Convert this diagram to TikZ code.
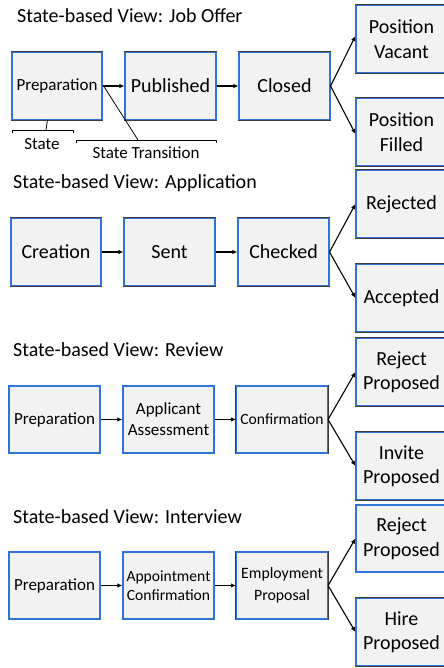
\documentclass[tikz,border=0pt]{standalone}
\usepackage{fontspec}
\setmainfont{Carlito}
\usetikzlibrary{arrows.meta}
\definecolor{boxfill}{HTML}{F2F2F2}
\definecolor{boxblue}{HTML}{2F74D8}
\definecolor{boxdark}{HTML}{3C3C3C}
\tikzset{
  sbox/.style={rectangle, fill=boxfill, draw=boxblue, line width=1.1bp,
    preaction={draw=boxdark, line width=2.6bp},
    minimum width=90bp, minimum height=67bp, inner sep=1bp, align=center, text=black},
  bigtxt/.style={font=\fontsize{20bp}{24.5bp}\selectfont},
  smalltxt/.style={font=\fontsize{17bp}{21bp}\selectfont},
  tinytxt/.style={font=\fontsize{15.6bp}{19bp}\selectfont},
  emptxt/.style={font=\fontsize{15.8bp}{22.5bp}\selectfont},
  rbox/.style={sbox, minimum width=91bp},
  title/.style={anchor=base west, inner sep=0pt, font=\fontsize{20bp}{24bp}\selectfont},
  flow/.style={line width=1.1bp, -{Latex[length=5bp,width=4.5bp]}},
  anno/.style={line width=0.8bp},
  annotxt/.style={inner sep=0pt, font=\fontsize{17bp}{20bp}\selectfont}
}
\begin{document}
\begin{tikzpicture}[x=1bp,y=-1bp]
\useasboundingbox (0,0) rectangle (444,668);
\clip (0,0) rectangle (444,668);
\fill[white] (0,0) rectangle (444,668);

% ---------- Section 1: Job Offer ----------
\node[title] (t1) at (17,23) {State-based View: Job Offer};
\node[sbox, smalltxt] (prep1) at (57,86) {Preparation};
\node[sbox, bigtxt, minimum width=91bp] (pub) at (170.5,86) {Published};
\node[sbox, bigtxt, minimum width=91bp] (closed) at (284.5,86) {Closed};
\node[rbox, bigtxt] (vac) at (401.5,39) {Position\\Vacant};
\node[rbox, bigtxt] (fill) at (401.5,132) {Position\\Filled};
\draw[flow] (prep1) -- (pub);
\draw[flow] (pub) -- (closed);
\draw[flow] (closed.east) -- ([yshift=3bp]vac.west);
\draw[flow] (closed.east) -- ([yshift=-2bp]fill.west);

% annotations
\coordinate (sA) at (12,133);
\coordinate (sB) at (12,130);
\coordinate (sC) at (73,130);
\coordinate (sD) at (73,133);
\coordinate (sM) at (46,130);
\coordinate (sT) at (47.5,120);
\draw[anno] (sA) -- (sB) -- (sC) -- (sD);
\draw[anno] (sM) -- (sT);
\node[annotxt] (stateLbl) at (42,144) {State};
\coordinate (tA) at (76,143);
\coordinate (tB) at (76,140);
\coordinate (tC) at (216,140);
\coordinate (tD) at (216,143);
\coordinate (tM) at (138,140);
\coordinate (tT) at (103,85);
\draw[anno] (tA) -- (tB) -- (tC) -- (tD);
\draw[anno] (tM) -- (tT);
\node[annotxt] (transLbl) at (146,153) {State Transition};

% ---------- Section 2: Application ----------
\node[title] (t2) at (13,188) {State-based View: Application};
\node[sbox, bigtxt] (crea) at (56,252) {Creation};
\node[sbox, bigtxt, minimum width=91bp] (sent) at (169.5,252) {Sent};
\node[sbox, bigtxt, minimum width=91bp] (chk) at (283.5,252) {Checked};
\node[rbox, bigtxt] (rej) at (401.5,204) {Rejected};
\node[rbox, bigtxt] (acc) at (401.5,298) {Accepted};
\draw[flow] (crea) -- (sent);
\draw[flow] (sent) -- (chk);
\draw[flow] (chk.east) -- (rej.west);
\draw[flow] (chk.east) -- (acc.west);

% ---------- Section 3: Review ----------
\node[title] (t3) at (13,356) {State-based View: Review};
\node[sbox, smalltxt, minimum width=91bp] (prep3) at (54.5,419.5) {Preparation};
\node[sbox, smalltxt, minimum width=91bp] (assess) at (168.5,419.5) {Applicant\\Assessment};
\node[sbox, tinytxt, minimum width=91bp] (conf) at (282,419.5) {Confirmation};
\node[rbox, bigtxt] (rp3) at (401.5,372) {Reject\\Proposed};
\node[rbox, bigtxt] (inv) at (401.5,466) {Invite\\Proposed};
\draw[flow] (prep3) -- (assess);
\draw[flow] (assess) -- (conf);
\draw[flow] (conf.east) -- (rp3.west);
\draw[flow] (conf.east) -- (inv.west);

% ---------- Section 4: Interview ----------
\node[title] (t4) at (13,523) {State-based View: Interview};
\node[sbox, smalltxt, minimum width=91bp] (prep4) at (54.5,585.5) {Preparation};
\node[sbox, tinytxt, minimum width=91bp] (appt) at (168.5,585.5) {Appointment\\Confirmation};
\node[sbox, emptxt, minimum width=91bp] (empl) at (282,585.5) {Employment\\Proposal};
\node[rbox, bigtxt] (rp4) at (401.5,538.5) {Reject\\Proposed};
\node[rbox, bigtxt] (hire) at (401.5,632) {Hire\\Proposed};
\draw[flow] (prep4) -- (appt);
\draw[flow] (appt) -- (empl);
\draw[flow] (empl.east) -- (rp4.west);
\draw[flow] (empl.east) -- (hire.west);
\end{tikzpicture}
\end{document}
